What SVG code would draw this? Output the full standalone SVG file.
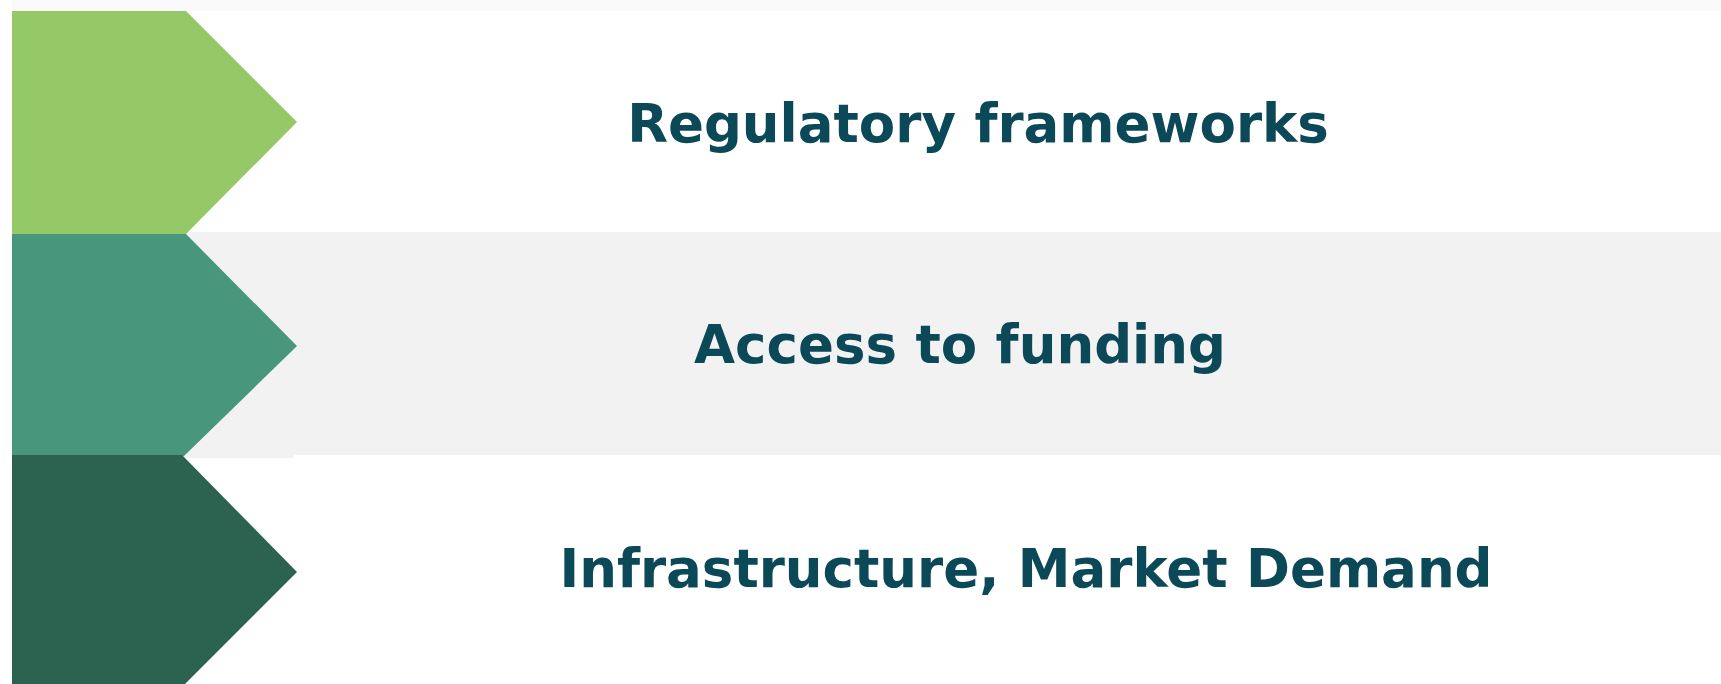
<svg xmlns="http://www.w3.org/2000/svg" width="1721" height="684" viewBox="0 0 1721 684">
<style>
.lbl{font-family:"DejaVu Sans",Verdana,sans-serif;font-weight:bold;font-size:53px;fill:#0b4858;text-anchor:middle}
</style>
<rect x="0" y="0" width="1721" height="684" fill="#ffffff"/>
<rect x="12" y="0" width="1709" height="11" fill="#fafafa"/>
<rect id="band2" x="180" y="232" width="1541" height="223" fill="#f2f2f2"/>
<rect x="180" y="455" width="114" height="3" fill="#f2f2f2"/>
<g id="node1">
<polygon points="12,11 186,11 297,122 186,234 12,234" fill="#95c866"/>
<text class="lbl" x="978" y="142">Regulatory frameworks</text>
</g>
<g id="node2">
<polygon points="12,234 186,234 297,346 184,456 12,456" fill="#48977c"/>
<text class="lbl" x="960" y="363">Access to funding</text>
</g>
<g id="node3">
<polygon points="12,455 182,455 297,572 185,684 12,684" fill="#2b6250"/>
<text class="lbl" x="1026" y="587">Infrastructure, Market Demand</text>
</g>
<g id="connectors"></g>
</svg>
